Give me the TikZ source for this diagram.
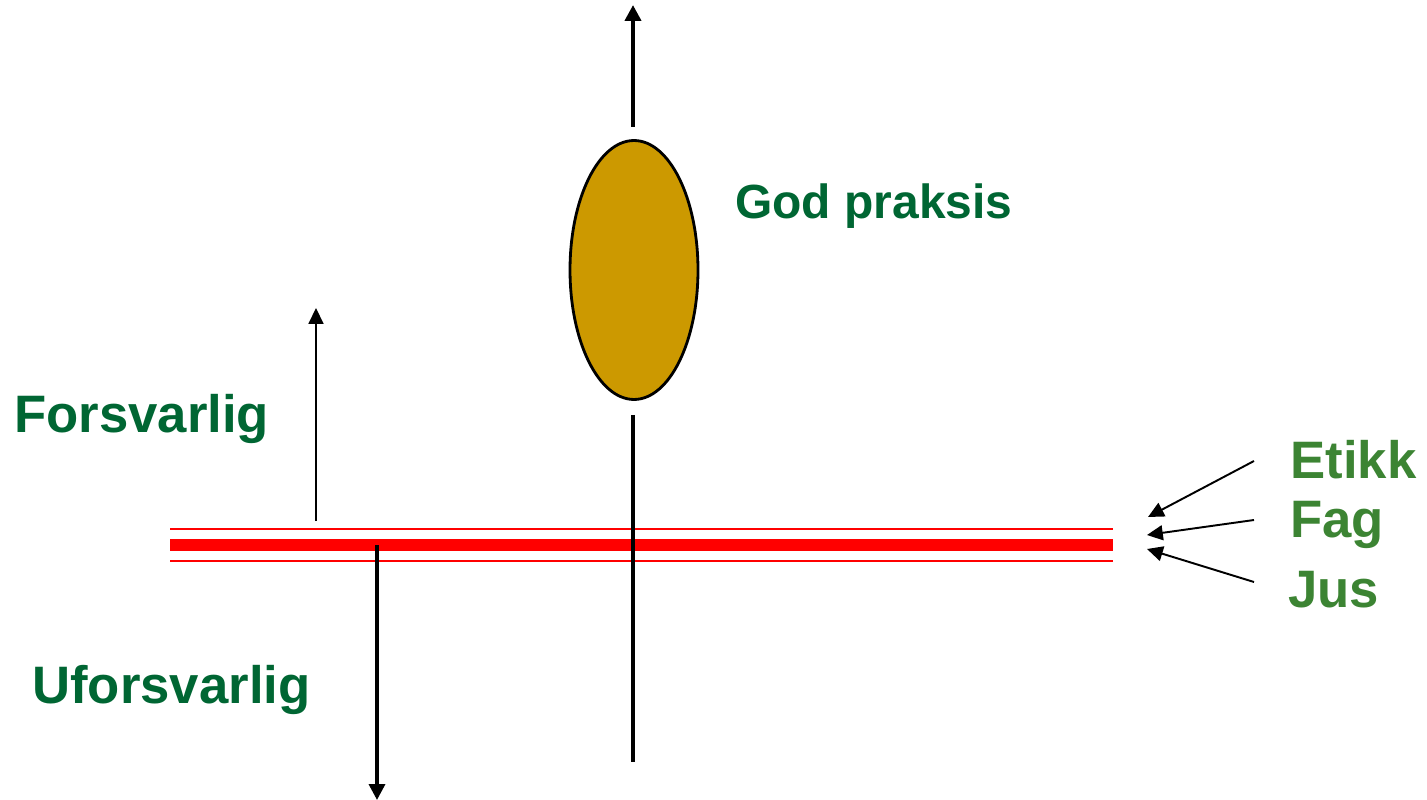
\documentclass[tikz,border=0pt]{standalone}
\usepackage{fontspec}
\setmainfont{Liberation Sans}
\usetikzlibrary{arrows.meta,shapes.geometric}
\definecolor{darkgreen}{HTML}{006633}
\definecolor{lightgreen}{HTML}{3C8433}
\definecolor{gold}{HTML}{CC9900}

\begin{document}
\begin{tikzpicture}[x=0.02cm,y=-0.02cm,
    lbl/.style={font=\bfseries\fontsize{30}{32}\selectfont,text=darkgreen,inner sep=0pt,anchor=west},
    src/.style={font=\bfseries\fontsize{30}{32}\selectfont,text=lightgreen,inner sep=0pt,anchor=west},
    fat/.style={line width=2.2pt,-{Triangle[length=9pt,width=9pt]}},
    slim/.style={line width=0.9pt,-{Triangle[length=9pt,width=8.5pt]}}]
      \useasboundingbox (0,0) rectangle (1427,800);
      % red border line
      \draw[red, line width=6.8pt] (170,545) -- (1113,545);
      \draw[red, line width=1.1pt] (170,529) -- (1113,529);
      \draw[red, line width=1.1pt] (170,561) -- (1113,561);
      % main axis
      \coordinate (axtop) at (633,127); \coordinate (axtip) at (633,5);
      \coordinate (axlow) at (633,415); \coordinate (axend) at (633,762);
      \draw[fat] (axtop) -- (axtip);
      \draw[line width=2.2pt] (axlow) -- (axend);
      \node[ellipse, draw, line width=1.6pt, fill=gold, minimum width=2.56cm, minimum height=5.18cm, inner sep=0pt] (gp) at (634,270) {};
      % up and down
      \coordinate (upfoot) at (316,521); \coordinate (uptip) at (316,308);
      \coordinate (dnfoot) at (377,545); \coordinate (dntip) at (377,800);
      \draw[slim] (upfoot) -- (uptip);
      \draw[line width=2pt,-{Triangle[length=9pt,width=9pt]}] (dnfoot) -- (dntip);
      % labels
      \node[lbl, font=\bfseries\fontsize{27.3}{29}\selectfont] (god) at (735,206) {God praksis};
      \node[lbl] (forsv) at (14,419) {Forsvarlig};
      \node[lbl] (ufor) at (32,690) {Uforsvarlig};
      \node[src] (etikk) at (1290,460) {Etikk};
      \node[src] (fag) at (1290,525) {Fag};
      \node[src] (jus) at (1288,590) {Jus};
      % sources
      \coordinate (eA) at (1254,461); \coordinate (eB) at (1148,517);
      \coordinate (fA) at (1254,520); \coordinate (fB) at (1147,535);
      \coordinate (jA) at (1254,582); \coordinate (jB) at (1147,549);
      \draw[slim, line width=1.1pt] (eA) -- (eB);
      \draw[slim, line width=1.1pt] (fA) -- (fB);
      \draw[slim, line width=1.1pt] (jA) -- (jB);
    \end{tikzpicture}
\end{document}
